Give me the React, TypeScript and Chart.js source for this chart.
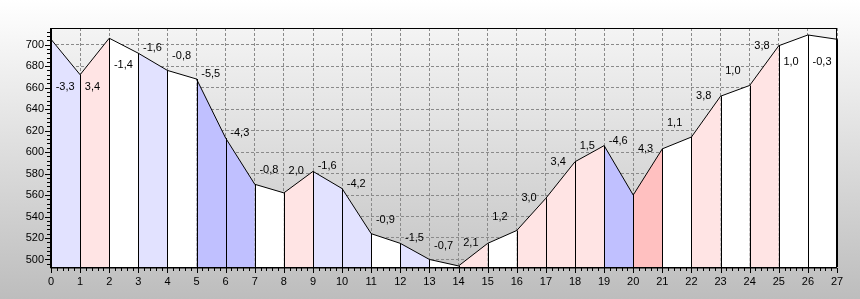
import React, { useEffect, useRef } from "react";
import { Chart, registerables } from "chart.js";

Chart.register(...registerables);

// ---- data ----
const distances = [0, 1, 2, 3, 4, 5, 6, 7, 8, 9, 10, 11, 12, 13, 14, 15, 16, 17, 18, 19, 20, 21, 22, 23, 24, 25, 26, 27];
const elevations = [705, 672, 706, 692, 676, 668, 613, 570, 562, 582, 566, 524, 515, 500, 494, 515, 527, 557, 591, 606, 560, 603, 614, 652, 662, 699, 709, 705];
const gradeLabels = ["-3,3", "3,4", "-1,4", "-1,6", "-0,8", "-5,5", "-4,3", "-0,8", "2,0", "-1,6", "-4,2", "-0,9", "-1,5", "-0,7", "2,1", "1,2", "3,0", "3,4", "1,5", "-4,6", "4,3", "1,1", "3,8", "1,0", "3,8", "1,0", "-0,3"];
const yTickValues = [500, 520, 540, 560, 580, 600, 620, 640, 660, 680, 700];
const X_MIN = 0;
const X_MAX = 27;
const Y_MIN = 493;
const Y_MAX = 715.5;

const FONT = "'Liberation Sans', Arial, sans-serif";

function gradeOf(label: string): number {
  return parseFloat(label.replace(",", "."));
}

function fillFor(g: number): string {
  if (g <= -4.25) return "#c0c0ff";
  if (g <= -1.5) return "#e2e2ff";
  if (g >= 4.25) return "#ffc0c0";
  if (g >= 1.5) return "#ffe4e4";
  return "#ffffff";
}

const profilePlugin = {
  id: "profilePlugin",
  beforeDraw(chart: any) {
    const { ctx, width, height, chartArea: a } = chart;
    ctx.save();
    let g = ctx.createLinearGradient(0, 0, 0, height);
    g.addColorStop(0, "#ffffff");
    g.addColorStop(1, "#bdbdbd");
    ctx.fillStyle = g;
    ctx.fillRect(0, 0, width, height);
    g = ctx.createLinearGradient(0, a.top, 0, a.bottom);
    g.addColorStop(0, "#f4f4f4");
    g.addColorStop(1, "#c6c6c6");
    ctx.fillStyle = g;
    ctx.fillRect(a.left, a.top, a.right - a.left, a.bottom - a.top);
    ctx.restore();
  },
  afterDatasetsDraw(chart: any) {
    const { ctx, chartArea: a } = chart;
    const xs = chart.scales.x;
    const ys = chart.scales.y;
    ctx.save();
    // vertical separators
    ctx.strokeStyle = "#000";
    ctx.lineWidth = 1;
    ctx.beginPath();
    distances.forEach((d, i) => {
      const px = Math.round(xs.getPixelForValue(d)) + 0.5;
      ctx.moveTo(px, a.bottom);
      ctx.lineTo(px, ys.getPixelForValue(elevations[i]));
    });
    ctx.stroke();

    // grade labels
    ctx.font = `11px ${FONT}`;
    ctx.fillStyle = "#000";
    ctx.textAlign = "left";
    ctx.textBaseline = "middle";
    gradeLabels.forEach((lab, i) => {
      const g = gradeOf(lab);
      const e0 = elevations[i];
      const e1 = elevations[i + 1];
      const maxPx = ys.getPixelForValue(Math.max(e0, e1));
      const minPx = ys.getPixelForValue(Math.min(e0, e1));
      let off = -5;
      if (Math.abs(g) < 1.5) off = -14;
      else if (g > 0) off = 0;
      let cy = maxPx + off;
      if (cy < a.top + 12) {
        cy = Math.max(minPx + 12, a.top + 34);
      }
      const lx = xs.getPixelForValue(distances[i] + 0.16);
      ctx.fillText(lab, lx, cy);
    });

    // border
    ctx.strokeStyle = "#000";
    ctx.lineWidth = 1;
    ctx.strokeRect(a.left + 0.5, a.top + 0.5, a.right - a.left - 1, a.bottom - a.top);
    ctx.beginPath();
    ctx.moveTo(a.left - 0.5, a.top);
    ctx.lineTo(a.left - 0.5, a.bottom + 1);
    ctx.lineTo(a.right, a.bottom + 1);
    ctx.stroke();

    // x tick marks
    ctx.beginPath();
    for (let v = X_MIN; v <= X_MAX + 1e-9; v += 0.2) {
      const px = Math.round(xs.getPixelForValue(v)) + 0.5;
      const major = Math.abs(v - Math.round(v)) < 1e-6;
      ctx.moveTo(px, a.bottom + 1);
      ctx.lineTo(px, a.bottom + 1 + (major ? 5 : 3));
    }
    // y tick marks
    for (let v = 496; v <= Y_MAX; v += 4) {
      const py = Math.round(ys.getPixelForValue(v)) + 0.5;
      const major = v % 20 === 0;
      ctx.moveTo(a.left - 1, py);
      ctx.lineTo(a.left - 1 - (major ? 5 : 3), py);
    }
    ctx.stroke();
    ctx.restore();
  },
};

export default function App() {
  const ref = useRef<HTMLCanvasElement | null>(null);
  useEffect(() => {
    document.body.style.margin = "0";
    const canvas = ref.current;
    if (!canvas) return;
    const chart = new Chart(canvas, {
      type: "line",
      data: {
        datasets: [
          {
            data: distances.map((d, i) => ({ x: d, y: elevations[i] })),
            borderColor: "#000",
            borderWidth: 1,
            pointRadius: 0,
            tension: 0,
            fill: "start",
            backgroundColor: "#ffffff",
            segment: {
              backgroundColor: (c: any) => fillFor(gradeOf(gradeLabels[c.p0DataIndex])),
            },
          } as any,
        ],
      },
      options: {
        responsive: false,
        animation: false,
        layout: { padding: { left: 0, top: 28, right: 23, bottom: 0 } },
        plugins: {
          legend: { display: false },
          tooltip: { enabled: false },
          title: { display: false },
        },
        scales: {
          x: {
            type: "linear",
            min: X_MIN,
            max: X_MAX,
            grid: { color: "#8a8a8a", lineWidth: 1, drawTicks: false },
            border: { display: false, dash: [3, 2] },
            ticks: {
              stepSize: 1,
              autoSkip: false,
              maxRotation: 0,
              includeBounds: false,
              padding: 8,
              color: "#000",
              font: { family: FONT, size: 11 },
            },
            afterFit: (s: any) => {
              s.height = 32;
            },
          },
          y: {
            type: "linear",
            min: Y_MIN,
            max: Y_MAX,
            grid: { color: "#8a8a8a", lineWidth: 1, drawTicks: false },
            border: { display: false, dash: [3, 2] },
            afterBuildTicks: (s: any) => {
              s.ticks = yTickValues.map((v) => ({ value: v }));
            },
            ticks: {
              includeBounds: false,
              padding: 7,
              color: "#000",
              font: { family: FONT, size: 11 },
            },
            afterFit: (s: any) => {
              s.width = 51;
            },
          },
        },
      },
      plugins: [profilePlugin],
    } as any);
    return () => chart.destroy();
  }, []);
  return (
    <div style={{ width: 860, height: 299 }}>
      <canvas ref={ref} width={860} height={299} style={{ display: "block" }} />
    </div>
  );
}
